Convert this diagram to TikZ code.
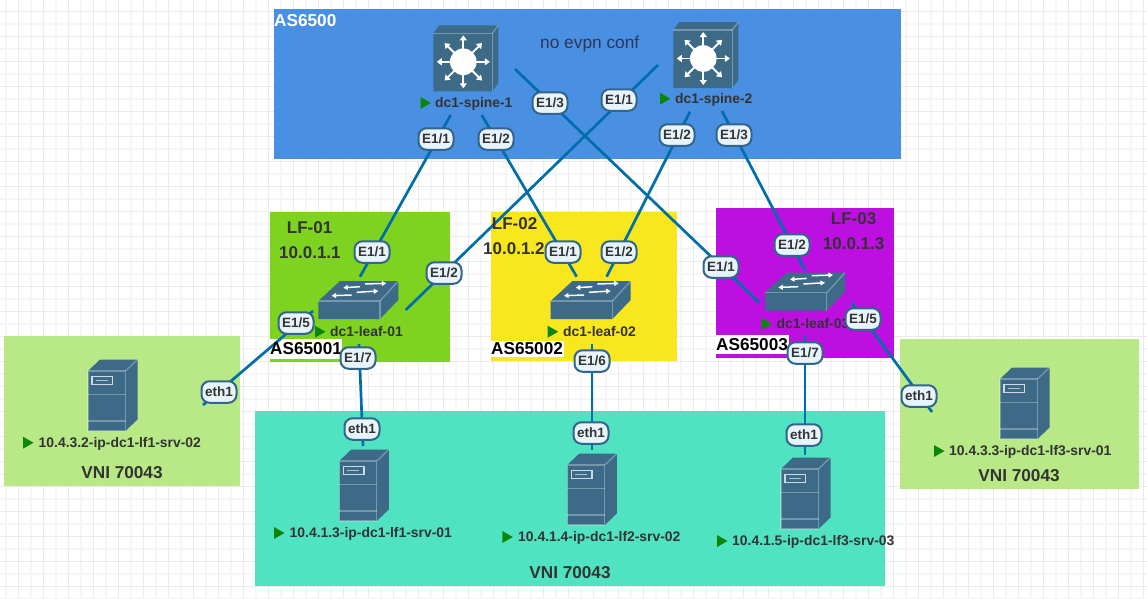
\documentclass[tikz,border=0pt]{standalone}
\usepackage{fontspec}
\usetikzlibrary{arrows.meta}
\setmainfont{Liberation Sans}
\definecolor{gminor}{HTML}{F6F6F7}
\definecolor{gmajor}{HTML}{EBEBED}
\definecolor{cblue}{HTML}{4A90E2}
\definecolor{cgreen}{HTML}{7ED321}
\definecolor{cyellow}{HTML}{F8E71C}
\definecolor{cpurple}{HTML}{BD10E0}
\definecolor{cteal}{HTML}{50E3C2}
\definecolor{clime}{HTML}{B8E986}
\definecolor{clink}{HTML}{006EAB}
\definecolor{cicon}{HTML}{3C6A87}
\definecolor{cedge}{HTML}{33658A}
\definecolor{clabel}{HTML}{E8F4FC}
\definecolor{ctext}{HTML}{333333}
\definecolor{cflag}{HTML}{0A870A}
\definecolor{cnote}{HTML}{30365A}
\tikzset{
  area/.style={fill=#1,draw=none},
  link/.style={draw=clink,line width=2.7pt},
  port/.style={draw=cedge,line width=2pt,fill=clabel,rounded corners=8pt,minimum width=35pt,minimum height=21.5pt,inner sep=0pt,text=ctext,font=\fontsize{13.5}{15}\selectfont\bfseries},
  devname/.style={anchor=west,inner sep=0pt,text height=9.5pt,text depth=0pt,text=ctext,font=\fontsize{13.9}{15}\selectfont\bfseries},
  head/.style={anchor=west,inner sep=0pt,text=ctext,font=\fontsize{17}{19}\selectfont\bfseries},
  asn/.style={anchor=west,inner sep=0pt,text=black,font=\fontsize{17.2}{19}\selectfont\bfseries},
  asbox/.style={fill=white,draw=none},
  vni/.style={inner sep=0pt,text=ctext,font=\fontsize{17.2}{19}\selectfont\bfseries},
  flag/.pic={\fill[cflag] (0,-6) -- (10.5,0) -- (0,6) -- cycle;},
  tint/.style={draw=white,draw opacity=.3,line width=1.3pt},
  srv/.pic={
    \fill[cicon] (0,0) -- (12,-11.5) -- (49.5,-11.5) -- (49.5,48.5) -- (37.5,60) -- (0,60) -- cycle;
    \draw[tint] (0,0) rectangle (37.5,60);
    \draw[tint] (37.5,0) -- (49.5,-11.5);
    \draw[tint] (0,23.5) -- (37.5,23.5);
    \draw[tint] (0,50) -- (37.5,50);
    \draw[draw=white,draw opacity=.75,line width=1.1pt] (4,5.5) rectangle (24.7,13.5);
    \draw[draw=white,draw opacity=.6,line width=1.1pt] (8,9.5) -- (20,9.5);
  },
  spokes/.style={draw=white,line width=1.9pt,-{Triangle[length=5pt,width=7pt]}},
  spinebox/.pic={
    \fill[cicon] (0,0) -- (6,-8) -- (65,-8) -- (65,50) -- (59,58) -- (0,58) -- cycle;
    \draw[tint] (59,0) -- (65,-8);
    \draw[tint] (0,0) -- (59,0) -- (59,58);
    \fill[white] (30,28.5) circle (13.3);
    \foreach \a in {0,45,...,315}{
      \draw[spokes] (30,28.5) -- ++(\a:26.5);
    }
  },
  leafarrow/.style={draw=white,line width=1.5pt,-{Triangle[length=4.5pt,width=5pt]}},
  leafbox/.pic={
    \fill[cicon] (0,0) -- (21.7,-20) -- (80,-20) -- (80,-1) -- (61.7,18) -- (0,18) -- cycle;
    \draw[tint] (0,0) -- (61.7,0) -- (61.7,18);
    \draw[tint] (61.7,0) -- (80,-20);
    \draw[leafarrow] (41.7,-14.3) -- (25,-13.3);
    \draw[leafarrow] (46.7,-17) -- (68,-17.7);
    \draw[leafarrow] (33.3,-6) -- (13.3,-5.3);
    \draw[leafarrow] (38.3,-8.7) -- (60,-10);
  },
}
\begin{document}
\begin{tikzpicture}[x=1pt,y=-1pt]
\useasboundingbox (0,0) rectangle (1147,598);
\fill[white] (0,0) rectangle (1147,598);
% grid
\foreach \i in {0,...,46}{
  \draw[gminor,line width=1.2pt] ({6+25*\i},0) -- ({6+25*\i},598);
}
\foreach \i in {0,...,24}{
  \draw[gminor,line width=1.2pt] (0,{-1+25*\i}) -- (1147,{-1+25*\i});
}
\foreach \i in {0,...,45}{
  \draw[gmajor,line width=1.2pt] ({18.5+25*\i},0) -- ({18.5+25*\i},598);
}
\foreach \i in {0,...,23}{
  \draw[gmajor,line width=1.2pt] (0,{11.5+25*\i}) -- (1147,{11.5+25*\i});
}
% areas
\fill[area=cblue] (274,9) rectangle (901,159);
\fill[area=cgreen] (270,212) rectangle (450,361.7);
\fill[area=cyellow] (491,212) rectangle (677,361);
\fill[area=cpurple] (716,208) rectangle (894,358);
\fill[area=cteal] (255,411) rectangle (885,586);
\fill[area=clime] (4,336) rectangle (240,486);
\fill[area=clime] (900,339) rectangle (1139,489);
\fill[asbox] (270,339) rectangle (342,358.5);
\fill[asbox] (491,340.7) rectangle (564,357);
\fill[asbox] (716,335) rectangle (789,354);
% end points
\coordinate (s1a) at (450.7,115); \coordinate (l1a) at (360,276.7);
\coordinate (s1b) at (481.7,115); \coordinate (l2a) at (576.7,276.7);
\coordinate (s1c) at (515,69);    \coordinate (l3a) at (759.3,302.7);
\coordinate (s2a) at (658,65);    \coordinate (l1b) at (405.7,310);
\coordinate (s2b) at (690,111.7); \coordinate (l2b) at (606.7,276.7);
\coordinate (s2c) at (722,111);   \coordinate (l3b) at (805,270);
\coordinate (l1e) at (313,311);   \coordinate (sva) at (203,405);
\coordinate (l1g) at (359,344);   \coordinate (svb) at (363,446);
\coordinate (l2f) at (592,344);   \coordinate (svc) at (592,450);
\coordinate (l3g) at (805,336);   \coordinate (svd) at (805,455);
\coordinate (l3e) at (852,303);   \coordinate (sve) at (932,412);
% connectors
\draw[link] (s1a) -- (l1a);
\draw[link] (s1b) -- (l2a);
\draw[link] (s1c) -- (l3a);
\draw[link] (s2a) -- (l1b);
\draw[link] (s2b) -- (l2b);
\draw[link] (s2c) -- (l3b);
\draw[link] (l1e) -- (sva);
\draw[link] (l1g) -- (svb);
\draw[link] (l2f) -- (svc);
\draw[link] (l3g) -- (svd);
\draw[link] (l3e) -- (sve);
% icons
\pic at (433.3,33.3) {spinebox};
\pic at (673.3,30) {spinebox};
\pic at (318.3,301) {leafbox};
\pic at (550.7,301) {leafbox};
\pic at (765,292.7) {leafbox};
\pic at (88,371) {srv};
\pic at (339.3,461) {srv};
\pic at (567.3,465) {srv};
\pic at (781,469) {srv};
\pic at (1000,379) {srv};
% flags and names
\pic at (420.5,103) {flag};
\node[devname] (spine1) at (435,103) {dc1-spine-1};
\pic at (660,98.7) {flag};
\node[devname] (spine2) at (675,98.7) {dc1-spine-2};
\pic at (315,331.7) {flag};
\node[devname] (leaf1) at (330,331.7) {dc1-leaf-01};
\pic at (547.7,331.7) {flag};
\node[devname] (leaf2) at (563,331.7) {dc1-leaf-02};
\pic at (761.7,324) {flag};
\node[devname] (leaf3) at (776.5,324) {dc1-leaf-03};
\pic at (23,442.7) {flag};
\node[devname] (srva) at (38.5,442.7) {10.4.3.2-ip-dc1-lf1-srv-02};
\pic at (274,533) {flag};
\node[devname] (srvb) at (289.5,533) {10.4.1.3-ip-dc1-lf1-srv-01};
\pic at (502.3,537) {flag};
\node[devname] (srvc) at (518,537) {10.4.1.4-ip-dc1-lf2-srv-02};
\pic at (717,541) {flag};
\node[devname] (srvd) at (732,541) {10.4.1.5-ip-dc1-lf3-srv-03};
\pic at (934,451) {flag};
\node[devname] (srve) at (949,451) {10.4.3.3-ip-dc1-lf3-srv-01};
% texts
\node[asn,text=white] (as0) at (274,21) {AS6500};
\node[anchor=west,inner sep=0pt,text=cnote,font=\fontsize{17.3}{19}\selectfont] (noevpn) at (540,44) {no evpn conf};
\node[head] (lf1) at (286.7,227.7) {LF-01};
\node[head] (ip1) at (279,253) {10.0.1.1};
\node[head] (lf2) at (491.7,224) {LF-02};
\node[head] (ip2) at (483,249) {10.0.1.2};
\node[head] (lf3) at (830.7,219) {LF-03};
\node[head] (ip3) at (822.7,244) {10.0.1.3};
\node[asn] (as1) at (270,349) {AS65001};
\node[asn] (as2) at (491,349) {AS65002};
\node[asn] (as3) at (716,345) {AS65003};
\node[vni] (vnia) at (122,473) {VNI 70043};
\node[vni] (vnib) at (570,573) {VNI 70043};
\node[vni] (vnic) at (1019,476) {VNI 70043};
% port labels
\node[port] (p1) at (436,139) {E1/1};
\node[port] (p2) at (372,252) {E1/1};
\node[port] (p3) at (496,139) {E1/2};
\node[port] (p4) at (563,252) {E1/1};
\node[port] (p5) at (550,103) {E1/3};
\node[port] (p6) at (721,267) {E1/1};
\node[port] (p7) at (619,100) {E1/1};
\node[port] (p8) at (444,273) {E1/2};
\node[port] (p9) at (677,135) {E1/2};
\node[port] (p10) at (619,252) {E1/2};
\node[port] (p11) at (734,135) {E1/3};
\node[port] (p12) at (792,245) {E1/2};
\node[port] (p13) at (296,323) {E1/5};
\node[port] (p14) at (219,392) {eth1};
\node[port] (p15) at (358,358) {E1/7};
\node[port] (p16) at (362,429) {eth1};
\node[port] (p17) at (592,361) {E1/6};
\node[port] (p18) at (591,433) {eth1};
\node[port] (p19) at (805,353) {E1/7};
\node[port] (p20) at (804,435) {eth1};
\node[port] (p21) at (863,319) {E1/5};
\node[port] (p22) at (919,396) {eth1};
\end{tikzpicture}
\end{document}
